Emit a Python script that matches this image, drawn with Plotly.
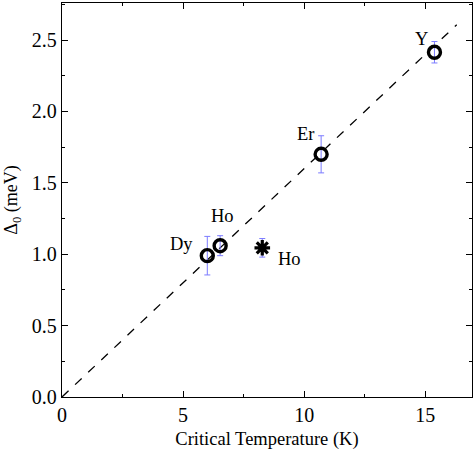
import plotly.graph_objects as go

# Circle points
labels = ["Dy", "Ho", "Er", "Y"]
tc = [6.0, 6.53, 10.7, 15.38]
gap = [0.99, 1.06, 1.70, 2.415]
gap_err = [0.135, 0.07, 0.13, 0.075]

# Star point
star_label = ["Ho"]
star_tc = [8.27]
star_gap = [1.045]
star_err = [0.065]

# Dashed fit line
fit_x = [0.0, 16.3]
fit_slope = 0.16

font_fam = "Liberation Serif, Times New Roman, serif"
fig = go.Figure()

fig.add_trace(go.Scatter(
    x=fit_x, y=[fit_slope * v for v in fit_x], mode="lines",
    line=dict(color="black", width=1.3, dash="dash"), showlegend=False))

fig.add_trace(go.Scatter(
    x=tc, y=gap, mode="markers",
    marker=dict(symbol="circle-open", size=12, color="black", line=dict(width=3.4, color="black")),
    error_y=dict(type="data", array=gap_err, color="#7b7bff", thickness=1, width=3),
    showlegend=False))

fig.add_trace(go.Scatter(
    x=star_tc, y=star_gap, mode="markers",
    marker=dict(symbol="asterisk-open", size=13, color="black", line=dict(width=3.2, color="black")),
    error_y=dict(type="data", array=star_err, color="#7b7bff", thickness=1, width=3),
    showlegend=False))

# annotations
ann_offsets = {"Dy": (-26, -12), "Ho": (2, -30), "Er": (-16, -20), "Y": (-13, -13)}
for lab, x, y in zip(labels, tc, gap):
    dx, dy = ann_offsets[lab]
    fig.add_annotation(x=x, y=y, text=lab, showarrow=False, xshift=dx, yshift=-dy,
                       font=dict(family=font_fam, size=18.5, color="black"))
for lab, x, y in zip(star_label, star_tc, star_gap):
    fig.add_annotation(x=x, y=y, text=lab, showarrow=False, xshift=27, yshift=-11,
                       font=dict(family=font_fam, size=18.5, color="black"))

axis_common = dict(showline=True, linecolor="black", linewidth=1.3, mirror="allticks",
                   ticks="inside", ticklen=6, tickwidth=1.2, tickcolor="black",
                   showgrid=False, zeroline=False,
                   tickfont=dict(family=font_fam, size=20, color="black"))

fig.update_xaxes(range=[0, 16.93], tickvals=[0, 5, 10, 15],
                 minor=dict(ticks="inside", ticklen=3, tickwidth=1, tickcolor="black", dtick=2.5, tick0=0),
                 title=dict(text="Critical Temperature (K)", font=dict(family=font_fam, size=18.5, color="black"), standoff=6),
                 **axis_common)
fig.update_yaxes(range=[0, 2.76], tickvals=[0, 0.5, 1.0, 1.5, 2.0, 2.5], tickformat=".1f",
                 minor=dict(ticks="inside", ticklen=3, tickwidth=1, tickcolor="black", dtick=0.25, tick0=0),
                 title=dict(text="Δ<sub>0</sub> (meV)", font=dict(family=font_fam, size=18, color="black"), standoff=9),
                 **axis_common)

fig.update_layout(width=475, height=452, margin=dict(l=62, r=3, t=3, b=55),
                  plot_bgcolor="white", paper_bgcolor="white")

fig.write_html("out.html")
